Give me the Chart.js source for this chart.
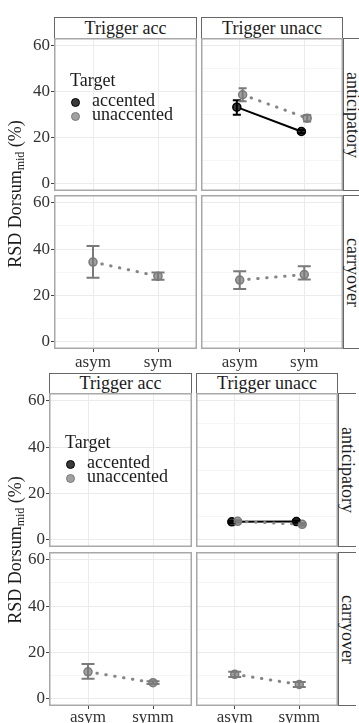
<!DOCTYPE html>
<html>
<head>
<meta charset="utf-8">
<script src="https://cdn.jsdelivr.net/npm/chart.js@4.4.1/dist/chart.umd.min.js"></script>
<style>
  body { margin: 0; background: #fff; }
  #page { position: relative; width: 359px; height: 723px; overflow: hidden;
          font-family: "Liberation Serif", "Times New Roman", serif; color: #1a1a1a; }
  .cell { position: absolute; }
  .strip { position: absolute; box-sizing: border-box; border: 1px solid #666; background: #fff;
           font-size: 18px; display: flex; align-items: center; justify-content: center; white-space: nowrap; }
  .strip.side { writing-mode: vertical-rl; border-right: none; }
  .ytitle { position: absolute; font-size: 18px; white-space: nowrap; transform: translate(-50%, -50%) rotate(-90deg); z-index: 2; }
  .ytitle sub { font-size: 12px; vertical-align: -3px; }
  .leg { position: absolute; font-size: 18px; white-space: nowrap; line-height: 20px; z-index: 2; }
  .key { position: absolute; width: 7px; height: 7px; border-radius: 50%; border: 1.5px solid; }
</style>
</head>
<body>
<div id="page"></div>
<script>
// categories and labels
const xCatsTop = ['asym', 'sym'];
const xCatsBottom = ['asym', 'symm'];
const triggers = ['Trigger acc', 'Trigger unacc'];
const phases = ['anticipatory', 'carryover'];
const targets = ['accented', 'unaccented'];
const yTicks = [0, 10, 20, 30, 40, 50, 60];

// top figure (values per x category: asym, sym)
const topUnaccAntAccMean = [33.3, 22.7];
const topUnaccAntAccLo = [30.0, 22.0];
const topUnaccAntAccHi = [36.3, 23.4];
const topUnaccAntUnaccMean = [38.7, 28.5];
const topUnaccAntUnaccLo = [35.9, 27.1];
const topUnaccAntUnaccHi = [41.5, 29.9];
const topAccCarUnaccMean = [34.4, 28.3];
const topAccCarUnaccLo = [27.6, 26.7];
const topAccCarUnaccHi = [41.3, 29.9];
const topUnaccCarUnaccMean = [26.6, 29.0];
const topUnaccCarUnaccLo = [22.7, 26.9];
const topUnaccCarUnaccHi = [30.4, 32.6];

// bottom figure (asym, symm)
const botUnaccAntAccMean = [7.7, 7.8];
const botUnaccAntAccLo = [7.2, 7.3];
const botUnaccAntAccHi = [8.2, 8.3];
const botUnaccAntUnaccMean = [7.9, 6.6];
const botUnaccAntUnaccLo = [7.4, 6.1];
const botUnaccAntUnaccHi = [8.4, 7.1];
const botAccCarUnaccMean = [11.6, 6.9];
const botAccCarUnaccLo = [8.6, 6.3];
const botAccCarUnaccHi = [15.0, 7.5];
const botUnaccCarUnaccMean = [10.5, 6.1];
const botUnaccCarUnaccLo = [9.3, 5.0];
const botUnaccCarUnaccHi = [11.6, 7.2];

function series(target, mean, lo, hi) {
    return { target: target, mean: mean, lo: lo, hi: hi };
}

const figures = [
    {
        cats: xCatsTop, stripTop: 17, cols: [[54, 197], [201, 343]], rows: [[38, 191], [195, 349]],
        xPad: 0, legendTop: 70, sideW: 18,
        panels: [
            [[], [series('accented', topUnaccAntAccMean, topUnaccAntAccLo, topUnaccAntAccHi),
                  series('unaccented', topUnaccAntUnaccMean, topUnaccAntUnaccLo, topUnaccAntUnaccHi)]],
            [[series('unaccented', topAccCarUnaccMean, topAccCarUnaccLo, topAccCarUnaccHi)],
             [series('unaccented', topUnaccCarUnaccMean, topUnaccCarUnaccLo, topUnaccCarUnaccHi)]]
        ]
    },
    {
        cats: xCatsBottom, stripTop: 373, cols: [[49, 192], [196, 338]], rows: [[393, 547], [552, 706]],
        xPad: -2, legendTop: 432, sideW: 18,
        panels: [
            [[], [series('accented', botUnaccAntAccMean, botUnaccAntAccLo, botUnaccAntAccHi),
                  series('unaccented', botUnaccAntUnaccMean, botUnaccAntUnaccLo, botUnaccAntUnaccHi)]],
            [[series('unaccented', botAccCarUnaccMean, botAccCarUnaccLo, botAccCarUnaccHi)],
             [series('unaccented', botUnaccCarUnaccMean, botUnaccCarUnaccLo, botUnaccCarUnaccHi)]]
        ]
    }
];

const styles = {
    accented: { line: '#000', dash: [], width: 2, cap: 'butt', fill: '#3a3a3a', edge: '#000', bar: '#000' },
    unaccented: { line: '#858585', dash: [0.5, 8.5], width: 3, cap: 'round', fill: '#a0a0a0', edge: '#7a7a7a', bar: '#7a7a7a' }
};

const YW = 40, XH = 24;
const tickFont = { family: '"Liberation Serif", "Times New Roman", serif', size: 17 };

// error bars drawn with the chart's own scales
const errorBars = {
    id: 'errorBars',
    afterDatasetsDraw(chart) {
        const { ctx, scales: { x, y } } = chart;
        chart.data.datasets.forEach(ds => {
            ctx.save();
            ctx.strokeStyle = ds.barColor;
            ctx.lineWidth = 2;
            ds.data.forEach((p, i) => {
                const px = x.getPixelForValue(p.x);
                const top = y.getPixelForValue(ds.hi[i]);
                const bot = y.getPixelForValue(ds.lo[i]);
                ctx.beginPath();
                ctx.moveTo(px, top); ctx.lineTo(px, bot);
                ctx.moveTo(px - ds.capHalf, top); ctx.lineTo(px + ds.capHalf, top);
                ctx.moveTo(px - ds.capHalf, bot); ctx.lineTo(px + ds.capHalf, bot);
                ctx.stroke();
            });
            ctx.restore();
        });
    }
};

const panelBorder = {
    id: 'panelBorder',
    afterDraw(chart) {
        const { ctx, chartArea: a } = chart;
        ctx.save();
        ctx.strokeStyle = '#a8a8a8';
        ctx.lineWidth = 1.5;
        ctx.strokeRect(a.left + 0.75, a.top + 0.75, a.width - 1.5, a.height - 1.5);
        ctx.restore();
    }
};

const page = document.getElementById('page');

function addDiv(cls, css, html) {
    const d = document.createElement('div');
    d.className = cls;
    Object.assign(d.style, css);
    if (html !== undefined) d.innerHTML = html;
    page.appendChild(d);
    return d;
}

figures.forEach(fig => {
    const dodged = fig.panels.map(r => r.map(list => list.length > 1));

    // strips across the top
    fig.cols.forEach((c, ci) => {
        addDiv('strip', { left: c[0] + 'px', top: fig.stripTop + 'px', width: (c[1] - c[0]) + 'px',
            height: (fig.rows[0][0] - fig.stripTop + 1) + 'px' }, triggers[ci]);
    });
    // strips down the right side
    fig.rows.forEach((r, ri) => {
        addDiv('strip side', { left: fig.cols[1][1] + 'px', top: r[0] + 'px', width: fig.sideW + 'px',
            height: (r[1] - r[0]) + 'px' }, phases[ri]);
    });

    fig.rows.forEach((r, ri) => {
        fig.cols.forEach((c, ci) => {
            const showY = ci === 0, showX = ri === 1;
            const left = c[0] - (showY ? YW : 0);
            const w = c[1] - c[0] + (showY ? YW : 0);
            const h = r[1] - r[0] + (showX ? XH : 0);
            const wrap = addDiv('cell', { left: left + 'px', top: r[0] + 'px', width: w + 'px', height: h + 'px' });
            const canvas = document.createElement('canvas');
            wrap.appendChild(canvas);

            const list = fig.panels[ri][ci];
            const dodge = dodged[ri][ci] ? 0.045 : 0;
            const datasets = list.map(s => {
                const st = styles[s.target];
                const off = s.target === 'accented' ? -dodge : dodge;
                return {
                    label: s.target,
                    data: s.mean.map((v, i) => ({ x: i + off, y: v })),
                    lo: s.lo, hi: s.hi,
                    barColor: st.bar,
                    capHalf: dodge ? 4 : 6.5,
                    order: s.target === 'accented' ? 1 : 0,
                    borderColor: st.line,
                    borderWidth: st.width,
                    borderDash: st.dash,
                    borderCapStyle: st.cap,
                    pointRadius: 4,
                    pointBorderWidth: 1.5,
                    pointBackgroundColor: st.fill,
                    pointBorderColor: st.edge,
                    tension: 0
                };
            });

            new Chart(canvas, {
                type: 'line',
                data: { datasets: datasets },
                options: {
                    responsive: true,
                    maintainAspectRatio: false,
                    animation: false,
                    layout: { padding: 0, autoPadding: false },
                    plugins: {
                        legend: { display: false },
                        tooltip: { enabled: false }
                    },
                    scales: {
                        x: {
                            type: 'linear',
                            min: -0.6,
                            max: 1.6,
                            afterBuildTicks: s => { s.ticks = fig.cats.map((cat, i) => ({ value: i })); },
                            afterFit: s => { s.height = showX ? XH : 0; s.paddingLeft = 0; s.paddingRight = 0; },
                            ticks: {
                                display: showX,
                                padding: fig.xPad,
                                color: '#333',
                                font: tickFont,
                                maxRotation: 0,
                                callback: v => fig.cats[v]
                            },
                            grid: { color: '#ebebeb', drawTicks: showX, tickLength: 3, tickColor: '#444' },
                            border: { display: false }
                        },
                        y: {
                            min: -3.2,
                            max: 63.4,
                            afterBuildTicks: s => { s.ticks = yTicks.map(v => ({ value: v })); },
                            afterFit: s => { s.width = showY ? YW : 0; s.paddingTop = 0; s.paddingBottom = 0; },
                            ticks: {
                                display: showY,
                                padding: 1,
                                color: '#333',
                                font: tickFont,
                                callback: v => (v % 20 === 0 ? v : '')
                            },
                            grid: {
                                color: ctx => (ctx.tick && ctx.tick.value % 20 === 0 ? '#ebebeb' : '#f5f5f5'),
                                tickColor: ctx => (ctx.tick && ctx.tick.value % 20 === 0 ? '#444' : 'rgba(0,0,0,0)'),
                                drawTicks: showY,
                                tickLength: 3
                            },
                            border: { display: false }
                        }
                    }
                },
                plugins: [errorBars, panelBorder]
            });
        });
    });

    // y axis title
    const midY = (fig.rows[0][0] + fig.rows[1][1]) / 2;
    addDiv('ytitle', { left: '16px', top: midY + 'px' }, 'RSD Dorsum<sub>mid</sub> (%)');

    // legend inside the first panel
    const lx = fig.cols[0][0] + 16;
    addDiv('leg', { left: lx + 'px', top: fig.legendTop + 'px' }, 'Target');
    targets.forEach((t, i) => {
        const y = fig.legendTop + 23 + i * 14;
        const st = styles[t];
        addDiv('key', { left: (lx + 1) + 'px', top: (y + 5) + 'px', background: st.fill, borderColor: st.edge });
        addDiv('leg', { left: (lx + 22) + 'px', top: (y - 1) + 'px', lineHeight: '16px' }, t);
    });
});
</script>
</body>
</html>
